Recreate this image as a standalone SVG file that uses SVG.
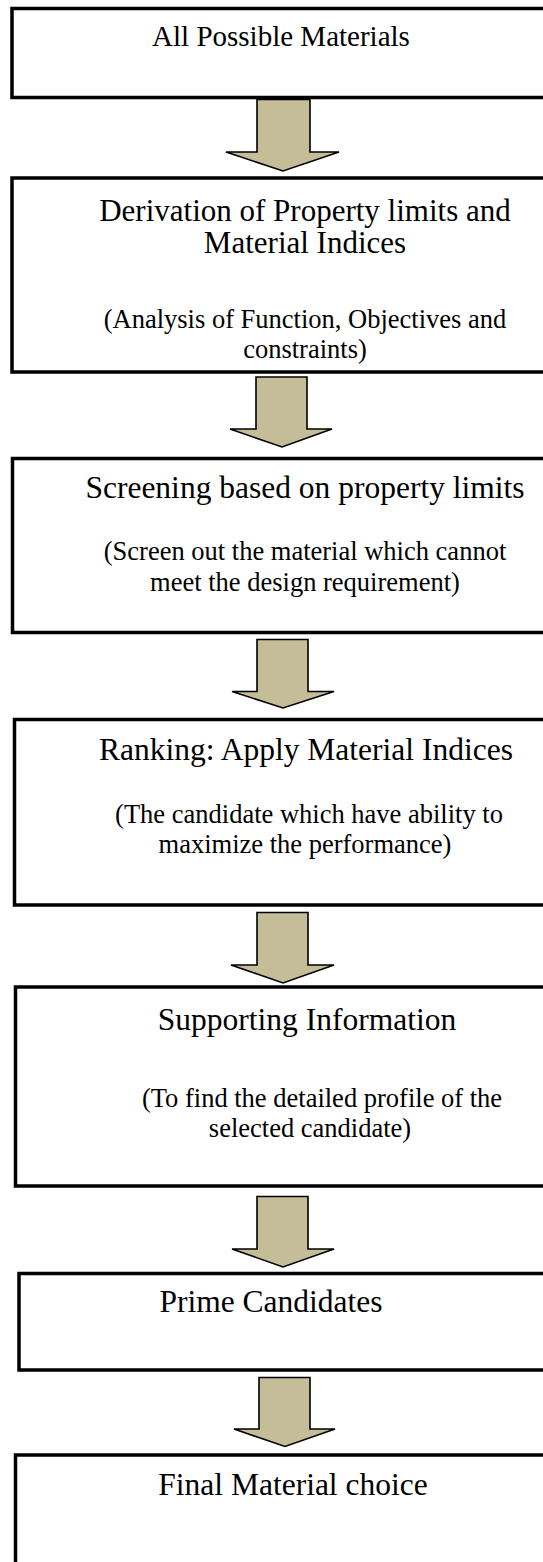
<svg xmlns="http://www.w3.org/2000/svg" width="543" height="1562" viewBox="0 0 543 1562">
<style>
.box{fill:#fff;stroke:#000;stroke-width:3.5}
.arr{fill:#C4BD97;stroke:#000;stroke-width:1.6;stroke-linejoin:miter}
text{font-family:"Liberation Serif","Times New Roman",serif;fill:#000;text-anchor:middle}
.t{font-size:31.5px}
.s{font-size:26.5px}
</style>
<rect width="543" height="1562" fill="#fff"/>
<g id="connectors">
<polygon class="arr" points="257,99.5 310,99.5 310,152 339,152 283,171 226,152 257,152"/>
<polygon class="arr" points="256,377 307,377 307,429 332,429 282,447 230,429 256,429"/>
<polygon class="arr" points="257,639.5 308,639.5 308,691.5 334,691.5 283,708 232,691.5 257,691.5"/>
<polygon class="arr" points="257,912.5 308,912.5 308,965 334,965 283,983 231,965 257,965"/>
<polygon class="arr" points="257,1196.5 308,1196.5 308,1249 334,1249 283,1267 232,1249 257,1249"/>
<polygon class="arr" points="259,1377.5 310,1377.5 310,1429 335,1429 285,1446.5 234,1429 259,1429"/>
</g>
<g id="node1">
<rect class="box" x="12" y="8.5" width="560" height="89"/>
<text class="t" x="281" y="46" style="font-size:29px">All Possible Materials</text>
</g>
<g id="node2">
<rect class="box" x="12" y="178" width="560" height="194"/>
<text class="t" x="305" y="221" style="font-size:31px">Derivation of Property limits and</text>
<text class="t" x="305" y="253" style="font-size:31px">Material Indices</text>
<text class="s" x="305" y="328">(Analysis of Function, Objectives and</text>
<text class="s" x="305" y="358">constraints)</text>
</g>
<g id="node3">
<rect class="box" x="12.5" y="458.5" width="560" height="174"/>
<text class="t" x="305" y="498">Screening based on property limits</text>
<text class="s" x="305" y="560">(Screen out the material which cannot</text>
<text class="s" x="305" y="590.5">meet the design requirement)</text>
</g>
<g id="node4">
<rect class="box" x="14.5" y="719.5" width="560" height="185.5"/>
<text class="t" x="306" y="760">Ranking: Apply Material Indices</text>
<text class="s" x="309" y="823">(The candidate which have ability to</text>
<text class="s" x="305" y="853">maximize the performance)</text>
</g>
<g id="node5">
<rect class="box" x="15.5" y="987" width="560" height="199"/>
<text class="t" x="307" y="1030">Supporting Information</text>
<text class="s" x="322" y="1106.5">(To find the detailed profile of the</text>
<text class="s" x="310" y="1136.5">selected candidate)</text>
</g>
<g id="node6">
<rect class="box" x="19" y="1273.5" width="560" height="96.5"/>
<text class="t" x="271" y="1311.5">Prime Candidates</text>
</g>
<g id="node7">
<rect class="box" x="15.5" y="1455" width="560" height="140"/>
<text class="t" x="293" y="1495">Final Material choice</text>
</g>
</svg>
